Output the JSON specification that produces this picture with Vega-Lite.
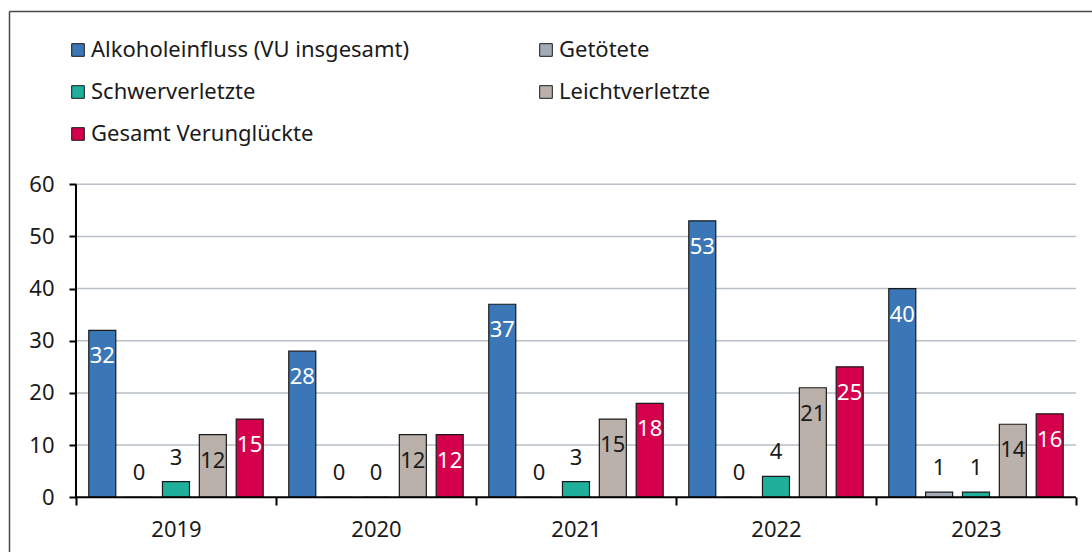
{
  "$schema": "https://vega.github.io/schema/vega-lite/v6.json",
  "width": 1083,
  "height": 541,
  "autosize": {"type": "none"},
  "padding": {"left": 9, "top": 11, "right": 0, "bottom": 0},
  "background": "white",
  "config": {
    "view": {"stroke": null},
    "font": "Noto Sans",
    "axis": {"labelFont": "Noto Sans", "titleFont": "Noto Sans"},
    "legend": {"labelFont": "Noto Sans"},
    "text": {"font": "Noto Sans"}
  },
  "datasets": {
    "main": [
      {"year": "2019", "series": "Alkoholeinfluss (VU insgesamt)", "value": 32},
      {"year": "2019", "series": "Getötete", "value": 0},
      {"year": "2019", "series": "Schwerverletzte", "value": 3},
      {"year": "2019", "series": "Leichtverletzte", "value": 12},
      {"year": "2019", "series": "Gesamt Verunglückte", "value": 15},
      {"year": "2020", "series": "Alkoholeinfluss (VU insgesamt)", "value": 28},
      {"year": "2020", "series": "Getötete", "value": 0},
      {"year": "2020", "series": "Schwerverletzte", "value": 0},
      {"year": "2020", "series": "Leichtverletzte", "value": 12},
      {"year": "2020", "series": "Gesamt Verunglückte", "value": 12},
      {"year": "2021", "series": "Alkoholeinfluss (VU insgesamt)", "value": 37},
      {"year": "2021", "series": "Getötete", "value": 0},
      {"year": "2021", "series": "Schwerverletzte", "value": 3},
      {"year": "2021", "series": "Leichtverletzte", "value": 15},
      {"year": "2021", "series": "Gesamt Verunglückte", "value": 18},
      {"year": "2022", "series": "Alkoholeinfluss (VU insgesamt)", "value": 53},
      {"year": "2022", "series": "Getötete", "value": 0},
      {"year": "2022", "series": "Schwerverletzte", "value": 4},
      {"year": "2022", "series": "Leichtverletzte", "value": 21},
      {"year": "2022", "series": "Gesamt Verunglückte", "value": 25},
      {"year": "2023", "series": "Alkoholeinfluss (VU insgesamt)", "value": 40},
      {"year": "2023", "series": "Getötete", "value": 1},
      {"year": "2023", "series": "Schwerverletzte", "value": 1},
      {"year": "2023", "series": "Leichtverletzte", "value": 14},
      {"year": "2023", "series": "Gesamt Verunglückte", "value": 16}
    ],
    "grid": [{"v": 10}, {"v": 20}, {"v": 30}, {"v": 40}, {"v": 50}, {"v": 60}],
    "axisline": [{"v0": 0, "v1": 60}]
  },
  "resolve": {"axis": {"x": "independent", "y": "independent"}},
  "layer": [
    {
      "data": {"name": "grid"},
      "mark": {"type": "rule", "color": "#b9bfc7", "strokeWidth": 1.5},
      "encoding": {
        "y": {
          "field": "v", "type": "quantitative",
          "scale": {"domain": [-10.49, 93.22], "nice": false, "zero": false},
          "axis": {
            "orient": "left", "offset": -67, "values": [0, 10, 20, 30, 40, 50, 60],
            "domain": false, "grid": false, "title": null,
            "ticks": true, "tickColor": "#000000", "tickWidth": 2, "tickSize": 7,
            "labelFontSize": 22, "labelColor": "#1a1a1a", "labelPadding": 15
          }
        },
        "x": {"datum": "2019", "type": "nominal", "bandPosition": 0, "axis": null,
              "scale": {"domain": ["2019", "2020", "2021", "2022", "2023"], "paddingInner": 0, "paddingOuter": 0.2075, "align": 0.807}},
        "x2": {"datum": "2023", "bandPosition": 1}
      }
    },
    {
      "data": {"name": "main"},
      "mark": {"type": "bar", "stroke": "#1a1a1a", "strokeWidth": 1.2},
      "encoding": {
        "x": {
          "field": "year", "type": "nominal",
          "scale": {"domain": ["2019", "2020", "2021", "2022", "2023"], "paddingInner": 0, "paddingOuter": 0.2075, "align": 0.807},
          "axis": {
            "orient": "bottom", "offset": -55, "domain": false, "grid": false, "title": null,
            "tickBand": "extent", "tickColor": "#000000", "tickWidth": 2, "tickSize": 8,
            "labelAngle": 0, "labelFontSize": 22, "labelColor": "#1a1a1a",
            "labelBaseline": "middle", "labelPadding": 24
          }
        },
        "xOffset": {
          "field": "series", "type": "nominal",
          "scale": {"domain": ["Alkoholeinfluss (VU insgesamt)", "Getötete", "Schwerverletzte", "Leichtverletzte", "Gesamt Verunglückte"], "paddingInner": 0.267, "paddingOuter": 0.347}
        },
        "y": {"field": "value", "type": "quantitative", "axis": null,
              "scale": {"domain": [-10.49, 93.22], "nice": false, "zero": false}},
        "color": {
          "field": "series", "type": "nominal",
          "scale": {
            "domain": ["Alkoholeinfluss (VU insgesamt)", "Getötete", "Schwerverletzte", "Leichtverletzte", "Gesamt Verunglückte"],
            "range": ["#3b77b6", "#a3abb7", "#1faf9b", "#bab1aa", "#d4004b"]
          },
          "legend": {
            "orient": "none", "legendX": 58, "legendY": 28, "direction": "horizontal", "columns": 2,
            "title": null, "padding": 0, "columnPadding": 125, "rowPadding": 20,
            "symbolType": "square", "symbolSize": 160, "symbolStrokeColor": "#1a1a1a", "symbolStrokeWidth": 1,
            "labelFontSize": 22, "labelColor": "#1a1a1a", "labelOffset": 2, "labelLimit": 500
          }
        }
      }
    },
    {
      "data": {"name": "axisline"},
      "mark": {"type": "rule", "color": "#000000", "strokeWidth": 2},
      "encoding": {
        "x": {"datum": "2019", "type": "nominal", "bandPosition": 0, "axis": null},
        "y": {"field": "v0", "type": "quantitative", "axis": null},
        "y2": {"field": "v1"}
      }
    },
    {
      "data": {"name": "axisline"},
      "mark": {"type": "rule", "color": "#000000", "strokeWidth": 2},
      "encoding": {
        "x": {"datum": "2019", "type": "nominal", "bandPosition": 0,
              "axis": {"orient": "top", "offset": 0, "domain": true, "domainColor": "#4a4a4a", "domainWidth": 1.5, "ticks": false, "labels": false, "grid": false, "title": null}},
        "x2": {"datum": "2023", "bandPosition": 1},
        "y": {"field": "v0", "type": "quantitative",
              "axis": {"orient": "left", "offset": 0, "domain": true, "domainColor": "#4a4a4a", "domainWidth": 1.5, "ticks": false, "labels": false, "grid": false, "title": null}}
      }
    },
    {
      "data": {"name": "main"},
      "transform": [{"filter": "datum.series === 'Getötete' || datum.series === 'Schwerverletzte'"}],
      "mark": {"type": "text", "fontSize": 22, "baseline": "middle", "align": "center", "dy": -24, "color": "#1a1a1a"},
      "encoding": {
        "x": {"field": "year", "type": "nominal", "axis": null},
        "xOffset": {"field": "series", "type": "nominal"},
        "y": {"field": "value", "type": "quantitative", "axis": null},
        "text": {"field": "value", "type": "quantitative"}
      }
    },
    {
      "data": {"name": "main"},
      "transform": [{"filter": "datum.series !== 'Getötete' && datum.series !== 'Schwerverletzte'"}],
      "mark": {"type": "text", "fontSize": 22, "baseline": "middle", "align": "center", "dy": 26},
      "encoding": {
        "x": {"field": "year", "type": "nominal", "axis": null},
        "xOffset": {"field": "series", "type": "nominal"},
        "y": {"field": "value", "type": "quantitative", "axis": null},
        "text": {"field": "value", "type": "quantitative"},
        "color": {
          "condition": {"test": "datum.series === 'Leichtverletzte'", "value": "#1a1a1a"},
          "value": "#ffffff"
        }
      }
    }
  ]
}
